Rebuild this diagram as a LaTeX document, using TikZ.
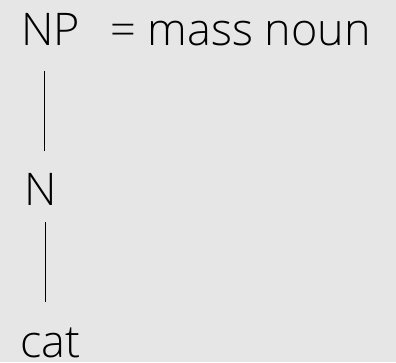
\documentclass[tikz,border=0pt]{standalone}
\usepackage{fontspec}
\newfontfamily\thinfont{Open Sans Light}
\definecolor{bg}{HTML}{E6E6E6}
\begin{document}
\begin{tikzpicture}[x=1pt,y=1pt,
  lbl/.style={inner sep=0pt,font=\thinfont\fontsize{45}{54}\selectfont,anchor=base west},
  edge/.style={draw=black,line width=0.8pt}]
\fill[bg] (0,0) rectangle (396,362);
\useasboundingbox (0,0) rectangle (396,362);
\node[lbl] (np) at (21,316) {NP};
\node[lbl] (eq) at (110,316) {= mass noun};
\node[lbl] (n) at (24,157) {N};
\node[lbl] (cat) at (20,5) {cat};
\coordinate (a1) at (44,291);
\coordinate (a2) at (44,211);
\coordinate (b1) at (45,140);
\coordinate (b2) at (45,60);
\draw[edge] (a1) -- (a2);
\draw[edge] (b1) -- (b2);
\end{tikzpicture}
\end{document}
